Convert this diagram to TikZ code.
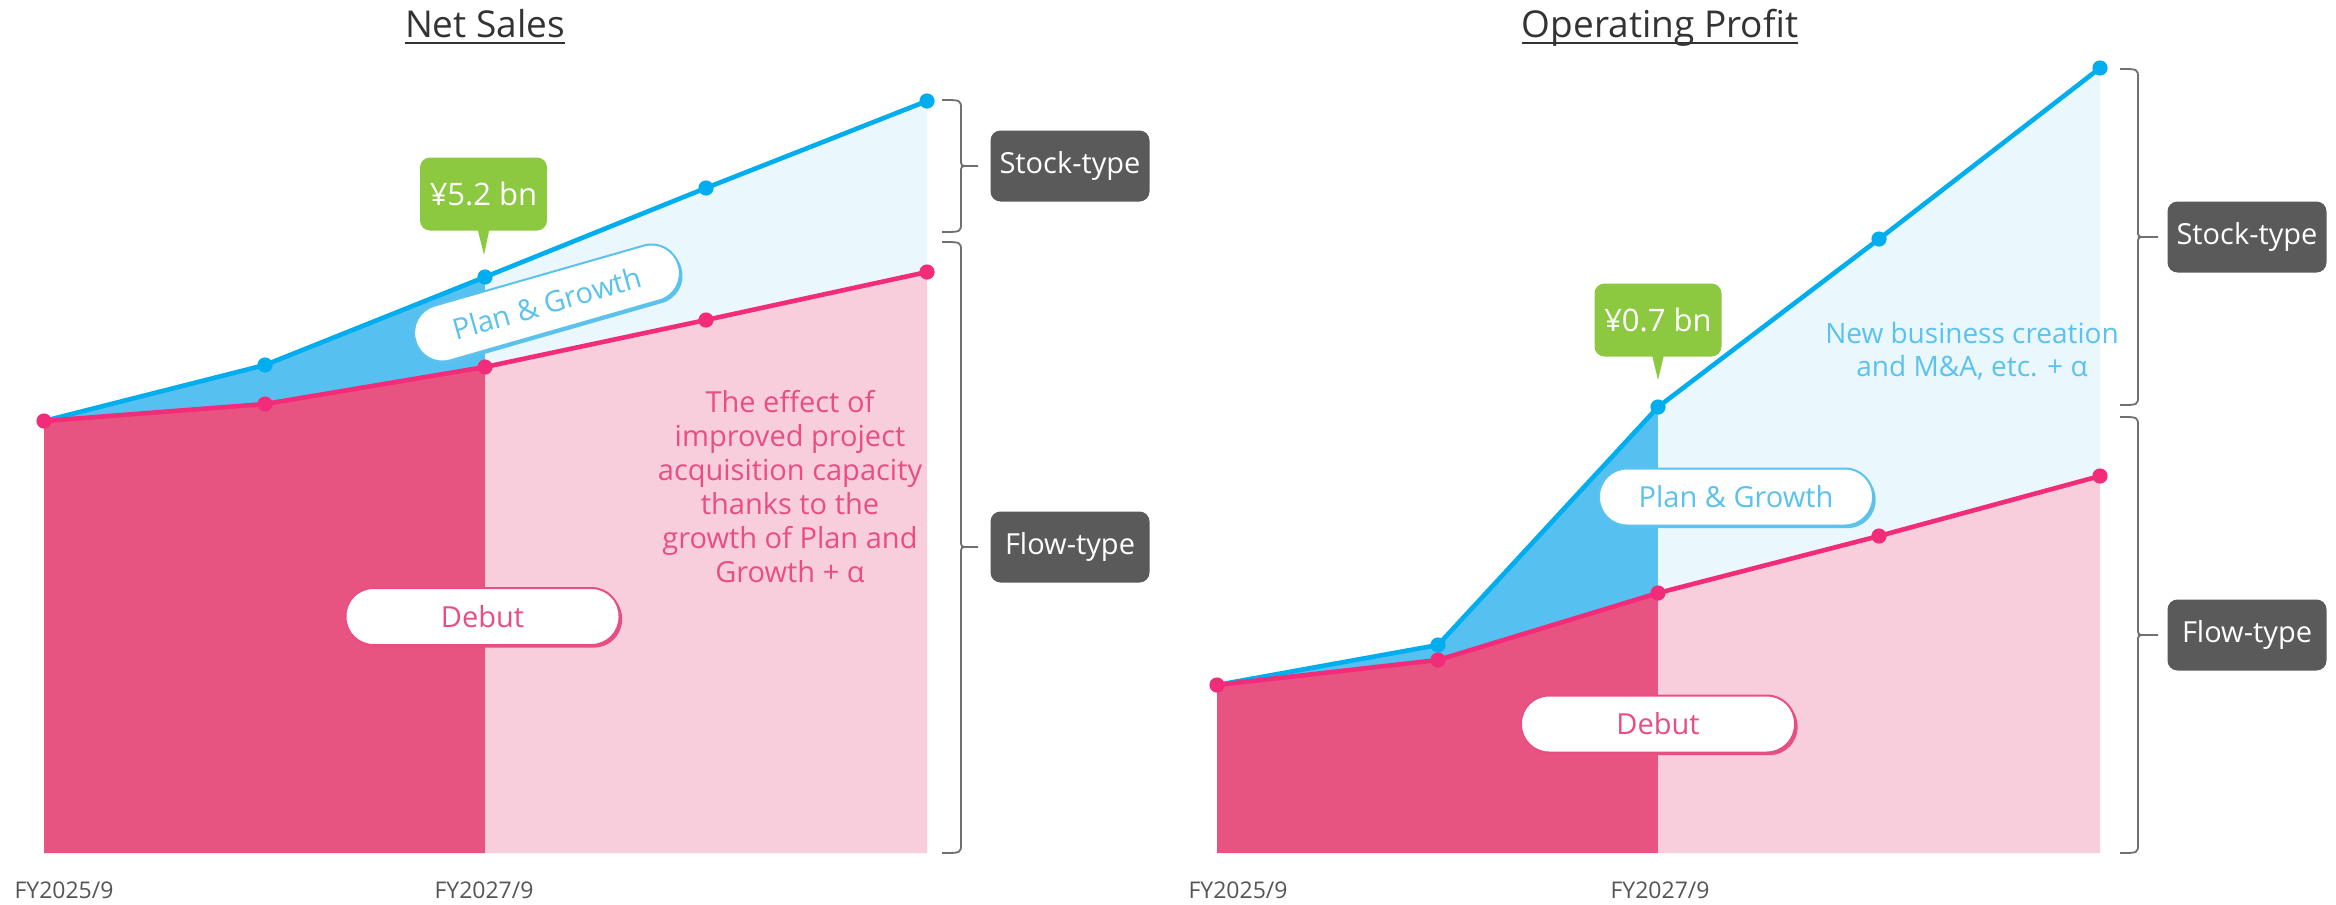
\documentclass[tikz,border=0pt]{standalone}
\usepackage{fontspec}
\setmainfont{Open Sans}
\usetikzlibrary{shadows}
\definecolor{blueL}{HTML}{00AEEF}
\definecolor{blueM}{HTML}{56C1F0}
\definecolor{blueP}{HTML}{EAF7FD}
\definecolor{pinkL}{HTML}{F32C79}
\definecolor{pinkD}{HTML}{E85482}
\definecolor{pinkP}{HTML}{F8CEDC}
\definecolor{pinkT}{HTML}{E94E80}
\definecolor{blueT}{HTML}{5BC2EE}
\definecolor{greenC}{HTML}{8CC941}
\definecolor{boxG}{HTML}{5A5A5A}
\definecolor{braceG}{HTML}{707070}
\definecolor{titleG}{HTML}{333333}
\definecolor{axisG}{HTML}{555555}
\newcommand{\mybrace}[6]{%
  \draw[brace] (#1,#4) .. controls (#2,#4) .. (#2,#4+9) -- (#2,#5-7) .. controls (#2,#5) .. (#2+7,#5) -- (#3,#5)
    (#2+7,#5) .. controls (#2,#5) .. (#2,#5+7) -- (#2,#6-9) .. controls (#2,#6) .. (#1,#6);}
\begin{document}
\begin{tikzpicture}[x=0.5pt,y=-0.5pt,
  lbl/.style={font=\fontsize{14.5}{17}\selectfont},
  title/.style={font=\fontsize{18.5}{22}\selectfont, text=titleG, inner sep=0pt, anchor=base},
  axis/.style={font=\fontsize{11.5}{13}\selectfont, text=axisG, anchor=base, inner sep=0pt},
  typebox/.style={fill=boxG, text=white, rounded corners=5pt, minimum width=79.5pt, minimum height=35.5pt, lbl},
  callout/.style={fill=greenC, text=white, rounded corners=5pt, minimum width=63.5pt, minimum height=36.5pt, font=\fontsize{15.5}{18}\selectfont},
  pill/.style={fill=white, draw=#1, line width=1pt, rounded corners=14pt, minimum width=137pt, minimum height=28.5pt, text=#1, lbl, drop shadow={shadow xshift=1.3pt, shadow yshift=-1.3pt, fill=#1, opacity=1}},
  bline/.style={blueL, line width=2.3pt, line join=round},
  pline/.style={pinkL, line width=2.3pt, line join=round},
  brace/.style={braceG, line width=0.9pt},
  bdot/.style={fill=blueL},
  pdot/.style={fill=pinkL},
]
\useasboundingbox (0,0) rectangle (2336,905);
\fill[white] (0,0) rectangle (2336,905);

% ---------- left chart coordinates ----------
\coordinate (LB0) at (44,421);
\coordinate (LB1) at (265,365);
\coordinate (LB2) at (485,277);
\coordinate (LB3) at (706,188);
\coordinate (LB4) at (927,101);
\coordinate (LP0) at (44,421);
\coordinate (LP1) at (265,404);
\coordinate (LP2) at (485,367);
\coordinate (LP3) at (706,320);
\coordinate (LP4) at (927,272);
\coordinate (BASE) at (0,853);

% ---------- right chart coordinates ----------
\coordinate (RB0) at (1217,685);
\coordinate (RB1) at (1438,645);
\coordinate (RB2) at (1658,407);
\coordinate (RB3) at (1879,239);
\coordinate (RB4) at (2100,68);
\coordinate (RP0) at (1217,685);
\coordinate (RP1) at (1438,660);
\coordinate (RP2) at (1658,593);
\coordinate (RP3) at (1879,536);
\coordinate (RP4) at (2100,476);

% ---------- fills ----------
\fill[blueM] (LB0) -- (LB1) -- (LB2) -- (LP2) -- (LP1) -- (LP0) -- cycle;
\fill[blueP] (LB2) -- (LB3) -- (LB4) -- (LP4) -- (LP3) -- (LP2) -- cycle;
\fill[pinkD] (LP0) -- (LP1) -- (LP2) -- (LP2 |- BASE) -- (LP0 |- BASE) -- cycle;
\fill[pinkP] (LP2) -- (LP3) -- (LP4) -- (LP4 |- BASE) -- (LP2 |- BASE) -- cycle;

\fill[blueM] (RB0) -- (RB1) -- (RB2) -- (RP2) -- (RP1) -- (RP0) -- cycle;
\fill[blueP] (RB2) -- (RB3) -- (RB4) -- (RP4) -- (RP3) -- (RP2) -- cycle;
\fill[pinkD] (RP0) -- (RP1) -- (RP2) -- (RP2 |- BASE) -- (RP0 |- BASE) -- cycle;
\fill[pinkP] (RP2) -- (RP3) -- (RP4) -- (RP4 |- BASE) -- (RP2 |- BASE) -- cycle;

% ---------- lines ----------
\draw[bline] (LB0) -- (LB1) -- (LB2) -- (LB3) -- (LB4);
\draw[pline] (LP0) -- (LP1) -- (LP2) -- (LP3) -- (LP4);
\draw[bline] (RB0) -- (RB1) -- (RB2) -- (RB3) -- (RB4);
\draw[pline] (RP0) -- (RP1) -- (RP2) -- (RP3) -- (RP4);
\foreach \p in {LB1,LB2,LB3,LB4,RB1,RB2,RB3,RB4} \fill[bdot] (\p) circle (3.8pt);
\foreach \p in {LP0,LP1,LP2,LP3,LP4,RP0,RP1,RP2,RP3,RP4} \fill[pdot] (\p) circle (3.8pt);

% ---------- titles ----------
\node[title] (t1) at (485,37) {Net Sales};
\draw[titleG, line width=1pt] ([yshift=-3pt]t1.base west) -- ([yshift=-3pt]t1.base east);
\node[title] (t2) at (1660,37) {Operating Profit};
\draw[titleG, line width=1pt] ([yshift=-3pt]t2.base west) -- ([yshift=-3pt]t2.base east);

% ---------- callouts ----------
\node[callout] (c1) at (483.5,194) {¥5.2 bn};
\coordinate (c1tip) at (484,255);
\fill[greenC] ([xshift=-3pt,yshift=1pt]c1.south) -- ([xshift=3pt,yshift=1pt]c1.south) -- (c1tip) -- cycle;
\node[callout] (c2) at (1658,320) {¥0.7 bn};
\coordinate (c2tip) at (1658,380);
\fill[greenC] ([xshift=-3pt,yshift=1pt]c2.south) -- ([xshift=3pt,yshift=1pt]c2.south) -- (c2tip) -- cycle;

% ---------- pills ----------
\node[pill=blueT, rotate=16] (pg1) at (547,303) {Plan \& Growth};
\node[pill=pinkT] (d1) at (482.5,616.5) {Debut};
\node[pill=blueT] (pg2) at (1736,497) {Plan \& Growth};
\node[pill=pinkT] (d2) at (1658,724) {Debut};

% ---------- notes ----------
\node[lbl, text=pinkT, align=center] (eff) at (790,487) {The effect of\\improved project\\acquisition capacity\\thanks to the\\growth of Plan and\\Growth + α};
\node[text=blueT, align=center, font=\fontsize{14}{16.5}\selectfont] (nb) at (1972,351) {New business creation\\and M\&A, etc. + α};

% ---------- braces and type boxes ----------
\mybrace{942}{961}{978}{100}{166}{232}
\mybrace{942}{961}{978}{242}{547}{853}
\mybrace{2120}{2138}{2158}{69}{237}{405}
\mybrace{2120}{2138}{2158}{417}{635}{853}
\node[typebox] (st1) at (1070,166) {Stock-type};
\node[typebox] (ft1) at (1070,547) {Flow-type};
\node[typebox] (st2) at (2247,237) {Stock-type};
\node[typebox] (ft2) at (2247,635) {Flow-type};

% ---------- axis labels ----------
\node[axis] (a1) at (64,898) {FY2025/9};
\node[axis] (a2) at (484,898) {FY2027/9};
\node[axis] (a3) at (1238,898) {FY2025/9};
\node[axis] (a4) at (1660,898) {FY2027/9};
\end{tikzpicture}
\end{document}
